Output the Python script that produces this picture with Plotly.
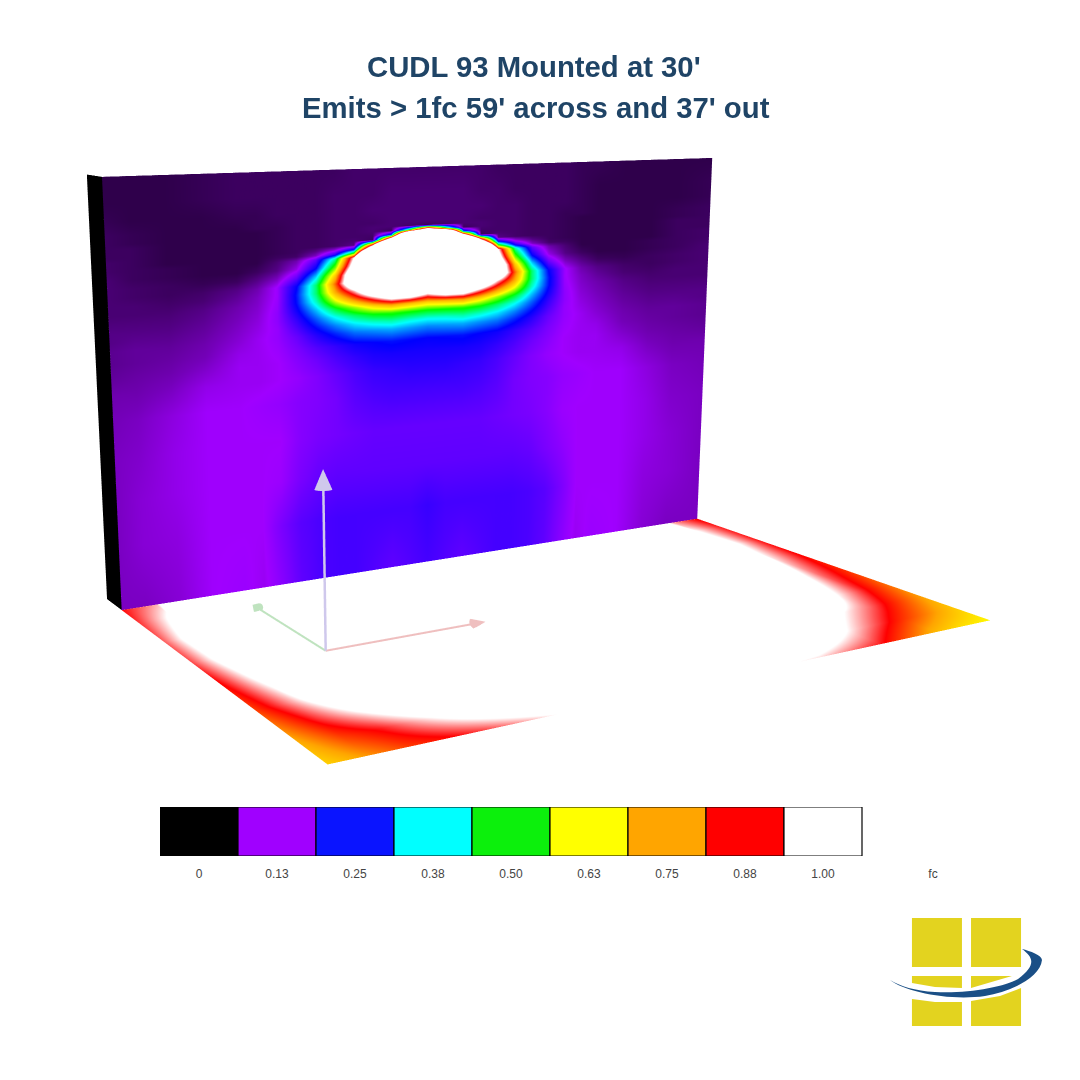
import numpy as np
import plotly.graph_objects as go

TITLE_1 = "CUDL 93 Mounted at 30'"
TITLE_2 = "Emits > 1fc 59' across and 37' out"
legend_values = [0, 0.13, 0.25, 0.38, 0.50, 0.63, 0.75, 0.88, 1.00]
legend_labels = ["0", "0.13", "0.25", "0.38", "0.50", "0.63", "0.75", "0.88", "1.00"]
legend_colors = ["#000000", "#A000FF", "#0A14FF", "#00FFFF", "#0CF00C", "#FFFF00", "#FFA500", "#FF0000", "#FFFFFF"]
scale_colors = ["#000000", "#A000FF", "#0000FF", "#00FFFF", "#00FF00", "#FFFF00", "#FFA500", "#FF0000", "#FFFFFF"]

wall_u = [0, .035, .085, .135, .185, .215, .245, .275, .305, .335, .365, .395, .425, .455, .485, .515, .545, .575, .605, .635, .665, .695, .725, .755, .785, .835, .885, .935, 1]
wall_v = [0, .06, .10, .13, .14, .15, .16, .17, .18, .19, .20, .21, .23, .25, .27, .29, .31, .33, .35, .37, .39, .42, .45, .49, .55, .64, .74, .85, 1]
wall_fc = [
[.04,.04,.04,.045,.05,.05,.05,.05,.05,.05,.055,.055,.055,.055,.055,.055,.055,.055,.05,.05,.05,.05,.05,.045,.045,.04,.04,.04,.04],
[.04,.04,.04,.045,.05,.05,.05,.05,.05,.055,.055,.055,.06,.06,.06,.06,.06,.055,.055,.05,.05,.05,.05,.045,.04,.04,.04,.04,.045],
[.045,.04,.04,.04,.045,.045,.05,.05,.05,.055,.055,.06,.06,.06,.06,.06,.06,.06,.055,.055,.05,.05,.05,.045,.04,.04,.04,.04,.045],
[.05,.045,.04,.04,.04,.045,.045,.05,.05,.055,.055,.055,.06,.06,.06,.06,.06,.055,.055,.055,.05,.05,.045,.045,.04,.04,.04,.045,.05],
[.05,.045,.04,.04,.04,.04,.045,.05,.05,.055,.055,.06,.06,.055,.05,.055,.06,.06,.055,.055,.05,.05,.045,.04,.04,.04,.04,.045,.05],
[.05,.045,.04,.04,.04,.04,.045,.05,.05,.055,.055,.06,.05,.5,1.2,.5,.05,.06,.055,.055,.05,.05,.045,.04,.04,.04,.04,.045,.05],
[.05,.05,.04,.04,.04,.04,.045,.05,.05,.055,.055,.055,.3,2.1,2.5,2.1,.3,.055,.055,.055,.05,.05,.045,.04,.04,.04,.04,.05,.05],
[.05,.05,.04,.04,.04,.04,.045,.05,.05,.055,.06,.05,1.25,3,3.5,3,1.25,.05,.06,.055,.05,.05,.045,.04,.04,.04,.04,.05,.05],
[.05,.05,.04,.04,.04,.04,.045,.05,.05,.055,.07,.8,2.2,4,4.5,4,2.2,.8,.07,.055,.05,.05,.045,.04,.04,.04,.04,.05,.05],
[.055,.05,.04,.04,.04,.04,.045,.05,.07,.12,.25,1.37,3,4,4.5,4,3,1.37,.25,.12,.07,.05,.045,.04,.04,.04,.04,.05,.055],
[.055,.05,.04,.04,.04,.04,.05,.055,.10,.22,.55,2.2,3.5,5,5,5,3.5,2.2,.55,.22,.10,.055,.05,.04,.04,.04,.04,.05,.055],
[.055,.05,.045,.04,.04,.04,.06,.09,.18,.42,1.0,3,4,5,5,5,4,3,1.0,.42,.18,.09,.06,.04,.04,.04,.045,.05,.055],
[.06,.05,.045,.04,.04,.05,.07,.12,.25,.55,1.11,4,5,5,5,5,5,4,1.11,.55,.25,.12,.07,.05,.04,.04,.045,.05,.06],
[.06,.055,.05,.045,.05,.07,.10,.18,.36,.70,1.27,4,5,5,5,5,5,4,1.27,.70,.36,.18,.10,.07,.05,.045,.05,.055,.06],
[.06,.055,.05,.055,.07,.09,.135,.25,.45,.80,1.25,2.5,2.5,2.5,2.5,2.5,2.5,2.5,1.25,.80,.45,.25,.135,.09,.07,.055,.05,.055,.06],
[.06,.06,.055,.06,.08,.10,.135,.265,.45,.74,.97,1.25,1.4,1.4,1.25,1.4,1.4,1.25,.97,.74,.45,.265,.135,.10,.08,.06,.055,.06,.06],
[.06,.06,.06,.07,.09,.105,.14,.26,.41,.62,.78,.94,1.1,1.1,.98,1.1,1.1,.94,.78,.62,.41,.26,.14,.105,.09,.07,.06,.06,.06],
[.065,.065,.065,.075,.095,.11,.145,.24,.35,.48,.58,.68,.75,.72,.69,.72,.75,.68,.58,.48,.35,.24,.145,.11,.095,.075,.065,.065,.065],
[.07,.07,.07,.08,.10,.115,.145,.215,.30,.385,.45,.50,.52,.51,.50,.51,.52,.50,.45,.385,.30,.215,.145,.115,.10,.08,.07,.07,.07],
[.07,.075,.075,.085,.105,.12,.14,.195,.26,.32,.37,.40,.42,.40,.39,.40,.42,.40,.37,.32,.26,.195,.14,.12,.105,.085,.075,.075,.07],
[.075,.08,.08,.09,.11,.125,.14,.175,.225,.27,.31,.325,.34,.33,.32,.33,.34,.325,.31,.27,.225,.175,.14,.125,.11,.09,.08,.08,.075],
[.075,.08,.085,.095,.12,.125,.135,.16,.19,.215,.24,.25,.26,.255,.25,.255,.26,.25,.24,.215,.19,.16,.135,.125,.12,.095,.085,.08,.075],
[.08,.085,.09,.105,.125,.125,.13,.15,.17,.195,.215,.23,.235,.235,.235,.235,.235,.23,.215,.195,.17,.15,.13,.125,.125,.105,.09,.085,.08],
[.09,.09,.10,.12,.125,.125,.13,.14,.155,.175,.195,.21,.215,.22,.22,.22,.215,.21,.195,.175,.155,.14,.13,.125,.125,.12,.10,.09,.09],
[.095,.10,.115,.13,.13,.135,.14,.15,.155,.165,.185,.195,.20,.20,.20,.20,.20,.195,.185,.165,.155,.15,.14,.135,.13,.13,.115,.10,.095],
[.10,.105,.12,.13,.13,.13,.13,.15,.16,.165,.17,.175,.175,.175,.175,.175,.175,.175,.17,.165,.16,.15,.135,.13,.13,.13,.12,.105,.10],
[.10,.11,.12,.13,.13,.13,.135,.16,.175,.18,.18,.18,.18,.18,.18,.18,.18,.18,.18,.18,.175,.16,.145,.13,.13,.13,.12,.11,.10],
[.10,.11,.115,.13,.13,.13,.16,.185,.195,.20,.20,.20,.20,.20,.21,.20,.20,.20,.20,.20,.195,.185,.16,.13,.13,.13,.115,.11,.10],
[.10,.10,.11,.13,.135,.125,.15,.18,.195,.20,.20,.19,.18,.19,.20,.19,.18,.19,.20,.20,.195,.18,.15,.125,.135,.13,.11,.10,.10],
]

floor_u = [0, .05, .1, .2, .3, .4, .5, .6, .7, .8, .9, .95, 1]
floor_w = [0, .1, .25, .4, .55, .7, .8, .9, 1]
floor_fc = [
[.88,.96,1.3,1.6,1.6,1.6,1.6,1.6,1.6,1.5,1.2,.95,.87],
[.90,1.02,1.4,2,2,2,2,2,2,1.8,1.3,1.0,.89],
[.92,1.08,1.4,2,2,2,2,2,2,1.8,1.25,1.02,.885],
[.91,1.07,1.35,2,2,2,2,2,2,1.7,1.18,.98,.87],
[.87,1.02,1.25,1.6,1.6,1.6,1.6,1.6,1.6,1.5,1.08,.93,.84],
[.83,.96,1.1,1.4,1.6,1.6,1.6,1.6,1.5,1.3,1.0,.89,.79],
[.78,.90,1.0,1.2,1.4,1.5,1.5,1.4,1.25,1.08,.93,.84,.75],
[.73,.83,.89,1.05,1.2,1.28,1.3,1.25,1.15,1.0,.84,.77,.70],
[.69,.76,.83,.91,1.0,1.03,1.04,1.02,.98,.89,.72,.67,.64],
]

axis_origin = (.161, .4825)
axis_tips = {"x": (.40, .4825, 0), "y": (.161, .125, 0), "z": (.161, .4825, .405)}
axis_colors = {"x": "#EFBFBF", "y": "#BFE3BF", "z": "#CFC8EC"}
axis_widths = {"x": 4, "y": 4, "z": 5}
head_sizes = {"x": (.022, .008), "y": (.018, .008), "z": (.028, .012)}

# scene proportions and camera
D, H, t = 0.57541, 0.61742, 0.05362
SKEW_A, SKEW_B, SKEW_C = -0.25828, 0.08072, 0.13211
EYE = (-0.75906, -1.66943, 0.45047)
CENTER = (-0.00911, -0.05931, -0.19078)
UP = (0.14292, 0.30803, 0.94058)

def world(U, Y, Z):
    return U + SKEW_A*Y + SKEW_B*Z, Y + SKEW_C*Z, Z

corners = np.array([world(U, Y, Z) for U in (0, 1) for Y, Zs in ((0, (0,)), (D, (0, H)), (D+t, (0, H))) for Z in Zs])
lo, hi = corners.min(0), corners.max(0)

colorscale = [[v, col] for v, col in zip(legend_values, scale_colors)]
flat = dict(ambient=1, diffuse=0, specular=0, fresnel=0, roughness=1)
WU, WV = np.meshgrid(wall_u, wall_v)
FU, FW = np.meshgrid(floor_u, floor_w)
fig = go.Figure()

def surf(U, Y, Z, C):
    x, y, z = world(np.array(U, float), np.array(Y, float), np.array(Z, float))
    fig.add_trace(go.Surface(x=x, y=y, z=z, surfacecolor=np.array(C), colorscale=colorscale, cmin=0, cmax=1,
                             showscale=False, lighting=flat, hoverinfo="skip"))

surf(WU, np.full(WU.shape, D), H*(1-WV), wall_fc)
surf(FU, D*(1-FW), np.zeros(FU.shape), floor_fc)
surf([[0, 0], [0, 0]], [[D, D+t], [D, D+t]], [[0, 0], [H, H]], [[0, 0], [0, 0]])

lift = 0.004
for name, (tu, tw, tz) in axis_tips.items():
    col = axis_colors[name]
    o = np.array(world(axis_origin[0], D*(1-axis_origin[1]), lift))
    tp = np.array(world(tu, D*(1-tw), tz*H+lift))
    d = (tp-o)/np.linalg.norm(tp-o)
    hl, hr = head_sizes[name]
    base = tp - d*hl
    fig.add_trace(go.Scatter3d(x=[o[0], base[0]], y=[o[1], base[1]], z=[o[2], base[2]], mode="lines",
                               line=dict(color=col, width=axis_widths[name]), hoverinfo="skip"))
    e1 = np.cross(d, [0.3, 0.5, 0.8]); e1 /= np.linalg.norm(e1)
    e2 = np.cross(d, e1)
    ang = np.linspace(0, 2*np.pi, 16, endpoint=False)
    ring = base + hr*(np.outer(np.cos(ang), e1) + np.outer(np.sin(ang), e2))
    vx = np.vstack([ring, tp, base])
    n = len(ang)
    I = list(range(n))*2
    J = [(k+1) % n for k in range(n)]*2
    K = [n]*n + [n+1]*n
    fig.add_trace(go.Mesh3d(x=vx[:, 0], y=vx[:, 1], z=vx[:, 2], i=I, j=J, k=K, color=col, flatshading=True,
                            lighting=flat, hoverinfo="skip"))

fig.add_trace(go.Bar(x=list(range(9)), y=[1]*9, width=1,
                     marker=dict(color=legend_colors, line=dict(color="#000000", width=1.2)),
                     xaxis="x", yaxis="y", hoverinfo="skip"))

def px(x): return x/1080
def py(y): return 1-y/1080
def poly(points):
    s = "M %.4f,%.4f" % (px(points[0][0]), py(points[0][1]))
    for p_ in points[1:]:
        s += " L %.4f,%.4f" % (px(p_[0]), py(p_[1]))
    return s + " Z"
logo_yellow = "#E3D31F"
logo_blue = "#1A4F86"
logo_polys = [
    [(912, 918), (962, 918), (962, 967), (912, 967)],
    [(971, 918), (1021, 918), (1021, 967), (971, 967)],
    [(912, 976), (962, 976), (962, 988), (935, 987), (912, 983)],
    [(971, 976), (1012, 976), (971, 988)],
    [(912, 999), (935, 1002), (962, 1002), (962, 1026), (912, 1026)],
    [(971, 1001), (1000, 996), (1021, 988), (1021, 1026), (971, 1026)],
]
shapes = [dict(type="path", xref="paper", yref="paper", layer="above", fillcolor=logo_yellow, line=dict(width=0), path=poly(p_)) for p_ in logo_polys]
def swoosh():
    pts = [("M", 890, 980), ("C", 905, 992, 950, 1001, 985, 996), ("C", 1010, 992, 1040, 978, 1042, 960),
           ("C", 1042, 955, 1030, 951, 1022, 949), ("C", 1034, 958, 1036, 965, 1018, 979), ("C", 1005, 987, 965, 994, 935, 992), ("C", 915, 991, 900, 986, 890, 980)]
    out = []
    for c_ in pts:
        out.append(c_[0] + " " + " ".join("%.4f,%.4f" % (px(c_[i]), py(c_[i+1])) for i in range(1, len(c_), 2)))
    return " ".join(out) + " Z"
shapes.append(dict(type="path", xref="paper", yref="paper", layer="above", fillcolor=logo_blue, line=dict(width=0), path=swoosh()))

fig.update_layout(
    width=1080, height=1080, margin=dict(l=0, r=0, t=0, b=0), paper_bgcolor="#FFFFFF", plot_bgcolor="rgba(0,0,0,0)",
    showlegend=False, shapes=shapes, font=dict(family="Liberation Sans"),
    scene=dict(domain=dict(x=[0, 1], y=[0, 1]), aspectmode="manual",
               aspectratio=dict(x=hi[0]-lo[0], y=hi[1]-lo[1], z=hi[2]-lo[2]),
               xaxis=dict(visible=False, range=[lo[0], hi[0]]), yaxis=dict(visible=False, range=[lo[1], hi[1]]), zaxis=dict(visible=False, range=[lo[2], hi[2]]),
               camera=dict(eye=dict(x=EYE[0], y=EYE[1], z=EYE[2]), center=dict(x=CENTER[0], y=CENTER[1], z=CENTER[2]),
                           up=dict(x=UP[0], y=UP[1], z=UP[2]), projection=dict(type="perspective"))),
    xaxis=dict(domain=[160/1080, (160+78*10.4)/1080], range=[-.5, 9.9], tickmode="array", tickvals=list(range(9))+[9.41],
               ticktext=legend_labels+["fc"], showgrid=False, zeroline=False, showline=False, ticks="outside", ticklen=7,
               tickcolor="rgba(0,0,0,0)", tickfont=dict(size=12, color="#444444", family="Liberation Sans")),
    yaxis=dict(domain=[py(856), py(807)], range=[0, 1], visible=False),
    annotations=[
        dict(text="<b>%s</b>" % TITLE_1, xref="paper", yref="paper", x=px(533.5), y=py(67), showarrow=False, xanchor="center", yanchor="middle",
             font=dict(size=29.3, color="#1F4466", family="Liberation Sans")),
        dict(text="<b>%s</b>" % TITLE_2, xref="paper", yref="paper", x=px(535.5), y=py(108), showarrow=False, xanchor="center", yanchor="middle",
             font=dict(size=29.3, color="#1F4466", family="Liberation Sans")),
    ])
fig.write_html("out.html", post_script="document.body.style.margin='0';", config={"displayModeBar": False})
